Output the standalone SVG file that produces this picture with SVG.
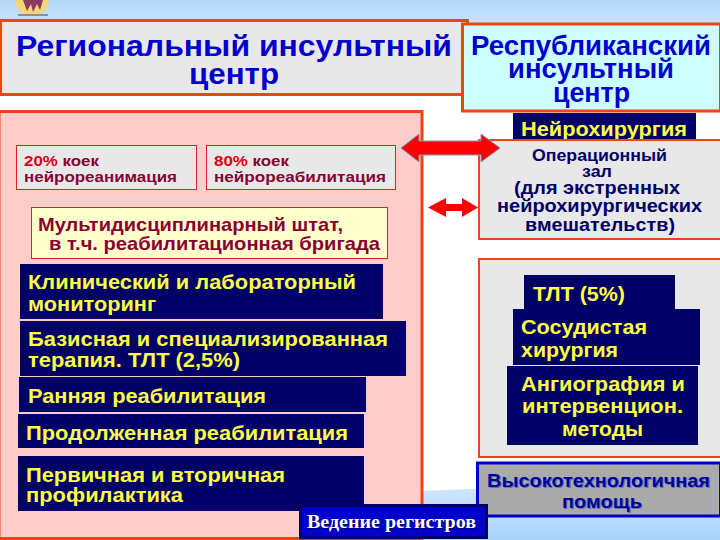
<svg xmlns="http://www.w3.org/2000/svg" width="720" height="540" viewBox="0 0 720 540">
<style>
text{font-family:"Liberation Sans",Arial,sans-serif;font-weight:bold}
.box{stroke:#ee4411;stroke-width:3}
.navy{fill:#000066}
.y{fill:#ffff44;font-size:21px}
.h{fill:#0000cc;font-size:29px}
.r{fill:#0000cc;font-size:27px}
.m{fill:#880033;font-size:15px}
.o{fill:#000066;font-size:18px}
.hi{fill:#000099;font-size:19px;text-shadow:1px 1px 0 #5577bb}
</style>
<defs>
<linearGradient id="bg" x1="0" y1="0" x2="0" y2="1">
<stop offset="0" stop-color="#b4d8fb"/><stop offset="0.17" stop-color="#ffffff"/><stop offset="1" stop-color="#ffffff"/>
</linearGradient>
<linearGradient id="low" x1="0" y1="0" x2="0" y2="1">
<stop offset="0" stop-color="#d5e9fc"/><stop offset="1" stop-color="#a8d4fb"/>
</linearGradient>
</defs>
<rect width="720" height="540" fill="url(#bg)"/>
<path d="M0 510 L423 491 L720 478 V540 H0Z" fill="url(#low)"/>
<g id="logo">
<path d="M15 0 H49 Q48 14 32 15 Q16 14 15 0Z" fill="#f3d67a"/>
<path d="M23 0 L27 11 L31 4 L33 12 L37 4 L40 10 L43 0Z" fill="#8a3a5a"/>
<rect x="18" y="14" width="30" height="2" fill="#9a8a80"/>
</g>
<g id="regional-panel"><rect class="box" x="-1" y="111.500" width="423" height="427" fill="#ffcccc"/></g>
<g id="regional-title">
<rect class="box" x="0.500" y="20.500" width="467" height="74" fill="#e8e8e8"/>
<text class="h" x="16" y="56" textLength="436" lengthAdjust="spacingAndGlyphs">Региональный инсультный</text>
<text class="h" x="189" y="84" textLength="90" lengthAdjust="spacingAndGlyphs">центр</text>
</g>
<g id="beds-20">
<rect x="16.500" y="145.500" width="180" height="44" fill="#e8e8e8" stroke="#dd2222"/>
<text class="m" x="24" y="166" textLength="75" lengthAdjust="spacingAndGlyphs"><tspan fill="#dd0011">20%</tspan> коек</text>
<text class="m" x="24" y="182" textLength="153" lengthAdjust="spacingAndGlyphs">нейрореанимация</text>
</g>
<g id="beds-80">
<rect x="206.500" y="145.500" width="189" height="44" fill="#e8e8e8" stroke="#dd2222"/>
<text class="m" x="214" y="166" textLength="75" lengthAdjust="spacingAndGlyphs"><tspan fill="#dd0011">80%</tspan> коек</text>
<text class="m" x="214" y="182" textLength="172" lengthAdjust="spacingAndGlyphs">нейрореабилитация</text>
</g>
<g id="staff">
<rect x="31.500" y="207.500" width="356" height="51" fill="#ffffcc" stroke="#dd2222"/>
<text x="38" y="231" font-size="19" fill="#880033" textLength="305" lengthAdjust="spacingAndGlyphs">Мультидисциплинарный штат,</text>
<text x="49" y="250" font-size="19" fill="#880033" textLength="331" lengthAdjust="spacingAndGlyphs">в т.ч. реабилитационная бригада</text>
</g>
<g id="monitoring">
<rect class="navy" x="20" y="264" width="363" height="55"/>
<text class="y" x="28" y="289" textLength="328" lengthAdjust="spacingAndGlyphs">Клинический и лабораторный</text>
<text class="y" x="28" y="311" textLength="128" lengthAdjust="spacingAndGlyphs">мониторинг</text>
</g>
<g id="therapy">
<rect class="navy" x="20" y="321" width="386" height="55"/>
<text class="y" x="28" y="346" textLength="360" lengthAdjust="spacingAndGlyphs">Базисная и специализированная</text>
<text class="y" x="28" y="367" textLength="212" lengthAdjust="spacingAndGlyphs">терапия. ТЛТ (2,5%)</text>
</g>
<g id="early-rehab">
<rect class="navy" x="19" y="377" width="347" height="35"/>
<text class="y" x="28" y="403" textLength="238" lengthAdjust="spacingAndGlyphs">Ранняя реабилитация</text>
</g>
<g id="continued-rehab">
<rect class="navy" x="18" y="414" width="346" height="34"/>
<text class="y" x="26" y="440" textLength="322" lengthAdjust="spacingAndGlyphs">Продолженная реабилитация</text>
</g>
<g id="prevention">
<rect class="navy" x="18" y="456" width="346" height="55"/>
<text class="y" x="26" y="482" textLength="259" lengthAdjust="spacingAndGlyphs">Первичная и вторичная</text>
<text class="y" x="26" y="502" textLength="157" lengthAdjust="spacingAndGlyphs">профилактика</text>
</g>
<g id="neurosurgery">
<rect class="navy" x="513" y="113" width="183" height="28"/>
<text x="521" y="136" font-size="21" fill="#ffff44" textLength="166" lengthAdjust="spacingAndGlyphs">Нейрохирургия</text>
</g>
<g id="republic-title">
<rect class="box" x="462.500" y="24" width="258" height="87" fill="#ccffff"/>
<text class="r" x="471" y="55" textLength="240" lengthAdjust="spacingAndGlyphs">Республиканский</text>
<text class="r" x="508" y="78" textLength="166" lengthAdjust="spacingAndGlyphs">инсультный</text>
<text class="r" x="553" y="102" textLength="77" lengthAdjust="spacingAndGlyphs">центр</text>
</g>
<g id="operating-room">
<rect x="479" y="140" width="243" height="99" fill="#e8e8e8" stroke="#ee4411" stroke-width="2"/>
<text x="532" y="161" font-size="16" fill="#000066" textLength="135" lengthAdjust="spacingAndGlyphs">Операционный</text>
<text x="582" y="177" font-size="16" fill="#000066" textLength="30" lengthAdjust="spacingAndGlyphs">зал</text>
<text class="o" x="514" y="194" textLength="166" lengthAdjust="spacingAndGlyphs">(для экстренных</text>
<text class="o" x="497" y="212" textLength="205" lengthAdjust="spacingAndGlyphs">нейрохирургических</text>
<text class="o" x="525" y="231" textLength="150" lengthAdjust="spacingAndGlyphs">вмешательств)</text>
</g>
<g id="high-tech-panel"><rect x="479" y="259" width="243" height="198" fill="#e8e8e8" stroke="#ee4411" stroke-width="2"/></g>
<g id="tlt">
<rect class="navy" x="524" y="275" width="151" height="35"/>
<text class="y" x="533" y="301" textLength="92" lengthAdjust="spacingAndGlyphs">ТЛТ (5%)</text>
</g>
<g id="vascular">
<rect class="navy" x="513" y="309" width="187" height="56"/>
<text class="y" x="521" y="334" textLength="126" lengthAdjust="spacingAndGlyphs">Сосудистая</text>
<text class="y" x="521" y="357" textLength="97" lengthAdjust="spacingAndGlyphs">хирургия</text>
</g>
<g id="angiography">
<rect class="navy" x="507" y="366" width="191" height="79"/>
<text class="y" x="521" y="391" textLength="164" lengthAdjust="spacingAndGlyphs">Ангиография и</text>
<text class="y" x="522" y="413" textLength="161" lengthAdjust="spacingAndGlyphs">интервенцион.</text>
<text class="y" x="562" y="436" textLength="81" lengthAdjust="spacingAndGlyphs">методы</text>
</g>
<g id="high-tech">
<rect x="477.500" y="463" width="243" height="53" fill="#aaaaaa" stroke="#0000cc" stroke-width="3"/>
<text class="hi" x="487" y="487" textLength="223" lengthAdjust="spacingAndGlyphs">Высокотехнологичная</text>
<text class="hi" x="562" y="508" textLength="80" lengthAdjust="spacingAndGlyphs">помощь</text>
</g>
<g id="registers">
<rect x="300.500" y="505.500" width="186" height="32" fill="#0000cc" stroke="#000066" stroke-width="3"/>
<text x="307" y="528" font-size="19" fill="#ffffff" textLength="169" lengthAdjust="spacingAndGlyphs" style="font-family:'Liberation Serif',serif;text-shadow:1px 1px 0 #000066">Ведение регистров</text>
</g>
<g id="connectors">
<path d="M401 148 L419 134 V141 H481 V134 L500 148 L481 162 V155 H419 V162Z" fill="#ff0000" stroke="#7c97c0"/>
<path d="M428 207.500 L446 198 V204 H462 V198 L478 207.500 L462 217 V211 H446 V217Z" fill="#ff0000"/>
</g>
</svg>
